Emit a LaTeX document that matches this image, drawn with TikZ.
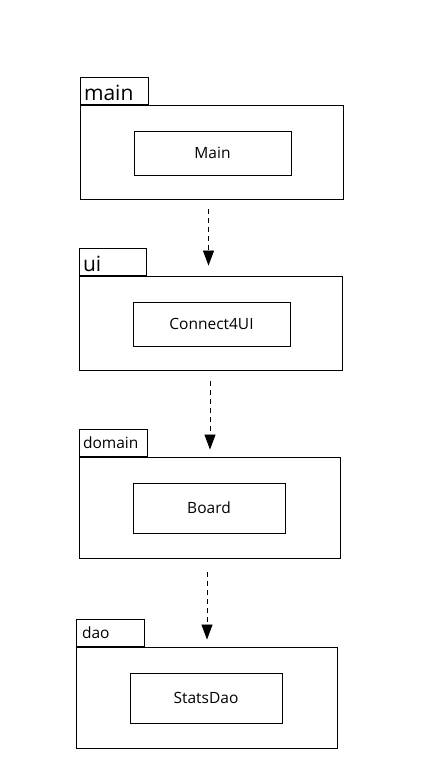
\documentclass[tikz,border=0pt]{standalone}
\usepackage{fontspec}
\setmainfont{Open Sans}
\usetikzlibrary{arrows.meta,positioning}

\tikzset{
  pkg/.style={draw, line width=0.9pt, minimum width=261pt, minimum height=101pt, inner sep=0pt},
  pkgtab/.style={draw, line width=0.9pt, text width=60pt, inner xsep=4pt, inner ysep=0pt,
    minimum height=27pt, anchor=south west, font=\fontsize{15.5}{17}\selectfont},
  bigtab/.style={pkgtab, text height=20pt, text depth=0pt, font=\fontsize{21}{23}\selectfont},
  cls/.style={draw, line width=0.9pt, minimum width=152pt, minimum height=50pt,
    inner sep=0pt, font=\fontsize{15.5}{17}\selectfont},
  dep/.style={line width=0.8pt, dash pattern=on 5pt off 4pt,
    -{Triangle[width=11pt,length=15pt]}}
}

\begin{document}
\begin{tikzpicture}[x=1pt,y=-1pt]
  \useasboundingbox (0,0) rectangle (436,771);

  % packages
  \node[pkg, minimum width=263pt, minimum height=94pt] (mainpkg) at (211.5,152) {};
  \node[bigtab] (maintab) at (mainpkg.north west) {main};
  \node[cls, minimum width=157pt, minimum height=44pt] (mainc) at (212.5,153) {Main};

  \node[pkg, minimum width=263pt, minimum height=94pt] (uipkg) at (210.5,323) {};
  \node[bigtab, text width=59pt] (uitab) at (uipkg.north west) {ui};
  \node[cls, minimum width=157pt, minimum height=44pt] (uic) at (211.5,324) {Connect4UI};

  \node[pkg] (domainpkg) at (209.5,507.5) {};
  \node[pkgtab] (domaintab) at (domainpkg.north west) {domain};
  \node[cls] (domainc) at (209,508) {Board};

  \node[pkg] (daopkg) at (206.5,697.5) {};
  \node[pkgtab, inner xsep=6pt, text width=56pt] (daotab) at (daopkg.north west) {dao};
  \node[cls] (daoc) at (206,698) {StatsDao};

  % dependencies
  \draw[dep, shorten <=10pt, shorten >=10pt]
    ([xshift=-3pt]mainpkg.south) -- ([xshift=-3pt]mainpkg.south |- uipkg.north);
  \draw[dep, shorten <=11pt, shorten >=7pt]
    ([xshift=-0.5pt]uipkg.south) -- ([xshift=-0.5pt]uipkg.south |- domainpkg.north);
  \draw[dep, shorten <=14pt, shorten >=7pt]
    ([xshift=-2.5pt]domainpkg.south) -- ([xshift=-2.5pt]domainpkg.south |- daopkg.north);
\end{tikzpicture}
\end{document}
